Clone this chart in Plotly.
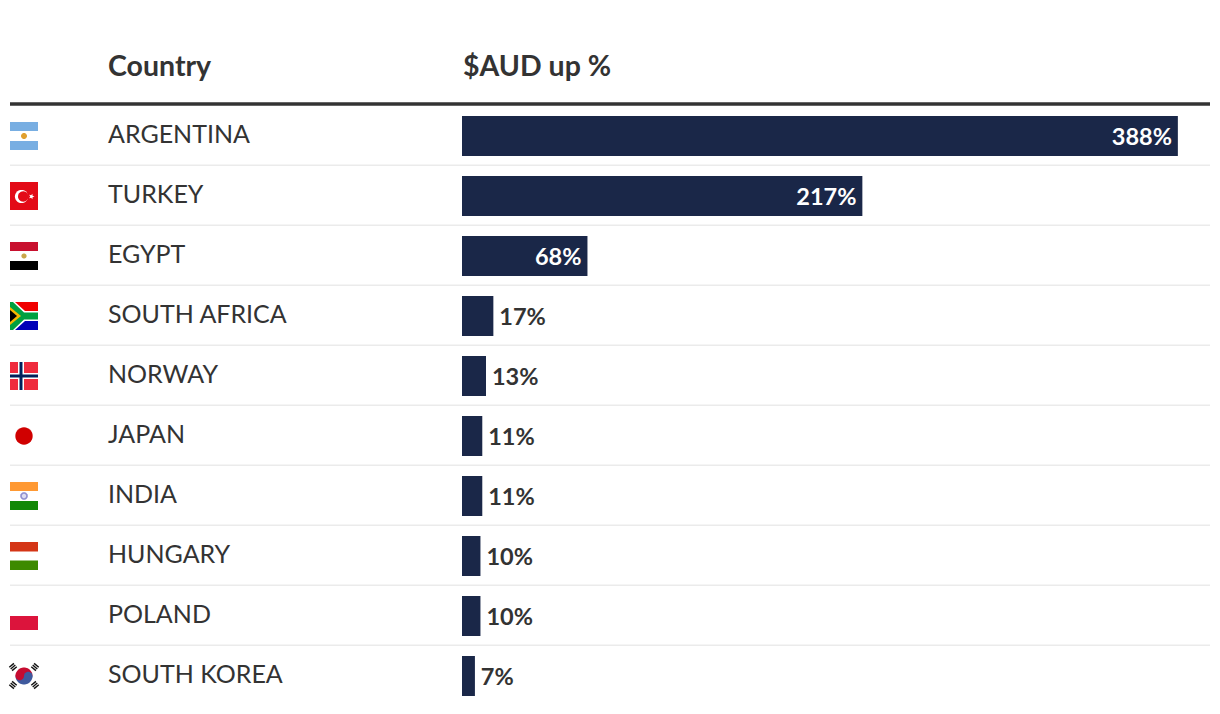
import math
import plotly.graph_objects as go

countries = ["ARGENTINA", "TURKEY", "EGYPT", "SOUTH AFRICA", "NORWAY", "JAPAN",
             "INDIA", "HUNGARY", "POLAND", "SOUTH KOREA"]
values = [388, 217, 68, 17, 13, 11, 11, 10, 10, 7]
value_labels = ["388%", "217%", "68%", "17%", "13%", "11%", "11%", "10%", "10%", "7%"]
header_country = "Country"
header_value = "$AUD up %"

PAGE = 8  # default page margin around the figure
W, H = 1220 - PAGE, 714 - PAGE
FONT = "Lato, 'Noto Sans', sans-serif"
INK = "#333333"
NAVY = "#1a2748"
PX_PER_UNIT = 1.845
BAR_X0 = 462 - PAGE
ROW0 = 136 - PAGE
PITCH = 60

xrange_ = [-BAR_X0 / PX_PER_UNIT, (W - BAR_X0) / PX_PER_UNIT]
yrange_ = [(H - ROW0) / PITCH, -ROW0 / PITCH]
FLAG_ANCHOR = xrange_[0]

shapes = []


def poly(row, pts, color):
    d = "M" + "L".join(f"{x - PAGE},{-y}" for x, y in pts) + "Z"
    shapes.append(dict(type="path", path=d, fillcolor=color, line=dict(width=0),
                       xref="x", yref="y", xsizemode="pixel", ysizemode="pixel",
                       xanchor=FLAG_ANCHOR, yanchor=row, layer="above"))


def rect(row, x0, x1, y0, y1, color):
    poly(row, [(x0, y0), (x1, y0), (x1, y1), (x0, y1)], color)


def disc(row, cx, cy, r, color, a0=0, a1=360):
    n = 28
    pts = [(cx + r * math.cos(math.radians(a0 + (a1 - a0) * i / n)),
            cy + r * math.sin(math.radians(a0 + (a1 - a0) * i / n))) for i in range(n + 1)]
    poly(row, pts, color)


def star(row, cx, cy, r, color):
    pts = []
    for i in range(10):
        a = math.radians(i * 36)
        rr = r if i % 2 == 0 else r * 0.42
        pts.append((cx + rr * math.cos(a), cy + rr * math.sin(a)))
    poly(row, pts, color)


# Argentina
rect(0, 10, 38, -14, -5, "#78aee2")
rect(0, 10, 38, 5, 14, "#78aee2")
disc(0, 24, 0, 3, "#e0a030")
# Turkey
rect(1, 10, 38, -14, 14, "#e30a17")
disc(1, 21.5, 0.5, 6.6, "#ffffff")
disc(1, 23.2, 0.5, 5.2, "#e30a17")
star(1, 31.5, 0.5, 3, "#ffffff")
# Egypt
rect(2, 10, 38, -14, -5, "#c8102e")
rect(2, 10, 38, 5, 14, "#000000")
disc(2, 24, 0, 2.6, "#c9a64a")
# South Africa
rect(3, 10, 38, -14, 0, "#f00000")
rect(3, 10, 38, 0, 14, "#0000b8")
poly(3, [(10, -14), (15, -14), (25, -5), (38, -5), (38, 5), (25, 5), (15, 14), (10, 14)], "#ffffff")
poly(3, [(10, -14), (13, -14), (24, -3.5), (38, -3.5), (38, 3.5), (24, 3.5), (13, 14), (10, 14)], "#00a040")
poly(3, [(10, -9), (21, 0), (10, 9)], "#f5b800")
poly(3, [(10, -6), (17, 0), (10, 6)], "#000000")
# Norway
rect(4, 10, 38, -14, 14, "#ef2b3d")
rect(4, 18, 24, -14, 14, "#ffffff")
rect(4, 10, 38, -3, 3, "#ffffff")
rect(4, 19.5, 22.5, -14, 14, "#00205b")
rect(4, 10, 38, -1.5, 1.5, "#00205b")
# Japan
disc(5, 24, 0, 8.7, "#d00000")
# India
rect(6, 10, 38, -14, -5, "#ff9933")
rect(6, 10, 38, 5, 14, "#128807")
disc(6, 24, 0, 3.8, "#8f8fd0")
disc(6, 24, 0, 2.2, "#dcdcf2")
# Hungary
rect(7, 10, 38, -14, -4.5, "#d43516")
rect(7, 10, 38, 4.5, 14, "#3d8a00")
# Poland
rect(8, 10, 38, 0, 14, "#dc143c")
# South Korea
disc(9, 24, 0, 8.5, "#c60c30", 180, 360)
disc(9, 24, 0, 8.5, "#3f5a9e", 0, 180)
disc(9, 19.75, 0, 4.25, "#c60c30")
disc(9, 28.25, 0, 4.25, "#3f5a9e")
for cx, cy, sign in [(13, -9, 1), (35, -9, -1), (13, 9, -1), (35, 9, 1)]:
    for off in (-2.2, 0, 2.2):
        ox, oy = off * 0.64, off * 0.77 * sign
        ux, uy = 3 * 0.77, -3 * 0.64 * sign
        tx, ty = 0.7 * 0.64, 0.7 * 0.77 * sign
        poly(9, [(cx + ox - ux - tx, cy + oy - uy - ty), (cx + ox + ux - tx, cy + oy + uy - ty),
                 (cx + ox + ux + tx, cy + oy + uy + ty), (cx + ox - ux + tx, cy + oy - uy + ty)], "#111111")

# header rule and row separators
RULE_X0, RULE_X1 = (10 - PAGE) / W, (1210 - PAGE) / W
shapes.append(dict(type="line", xref="paper", yref="paper", x0=RULE_X0, x1=RULE_X1,
                   y0=1 - (104 - PAGE) / H, y1=1 - (104 - PAGE) / H, line=dict(color=INK, width=3.5)))
for i in range(len(countries) - 1):
    yy = i + 29.3 / PITCH
    shapes.append(dict(type="line", xref="paper", yref="y", x0=RULE_X0, x1=RULE_X1,
                       y0=yy, y1=yy, line=dict(color="#ebebeb", width=1.4), layer="below"))

positions = ["inside" if v > 50 else "outside" for v in values]
colors = ["#ffffff" if v > 50 else INK for v in values]

fig = go.Figure(go.Bar(
    y=list(range(len(values))), x=values, orientation="h", width=40 / PITCH,
    marker=dict(color=NAVY, line=dict(width=0)),
    text=[("\u2009" + t) if p == "outside" else (t + "\u2009") for t, p in zip(value_labels, positions)],
    textposition=positions, insidetextanchor="end", constraintext="none",
    textangle=0, cliponaxis=False,
    textfont=dict(family=FONT, size=23.5, color=colors, weight="bold"),
    hoverinfo="skip",
))

annotations = [
    dict(x=(108 - PAGE) / W, y=i, xref="paper", yref="y", text=c, showarrow=False, xanchor="left",
         yanchor="middle", xshift=-2, yshift=3, font=dict(family=FONT, size=25, color=INK))
    for i, c in enumerate(countries)
]
for x, t in [(108, header_country), (463, header_value)]:
    annotations.append(dict(x=(x - PAGE) / W, y=1 - (66 - PAGE) / H, xref="paper", yref="paper", text=t,
                            showarrow=False, xanchor="left", yanchor="middle", xshift=-2, yshift=1,
                            font=dict(family=FONT, size=28.5, color=INK, weight="bold")))

fig.update_layout(
    width=W, height=H, margin=dict(l=0, r=0, t=0, b=0, pad=0),
    paper_bgcolor="white", plot_bgcolor="white", showlegend=False,
    xaxis=dict(range=xrange_, visible=False, fixedrange=True),
    yaxis=dict(range=yrange_, visible=False, fixedrange=True),
    shapes=shapes, annotations=annotations,
)
fig.write_html("out.html", config=dict(displayModeBar=False))
